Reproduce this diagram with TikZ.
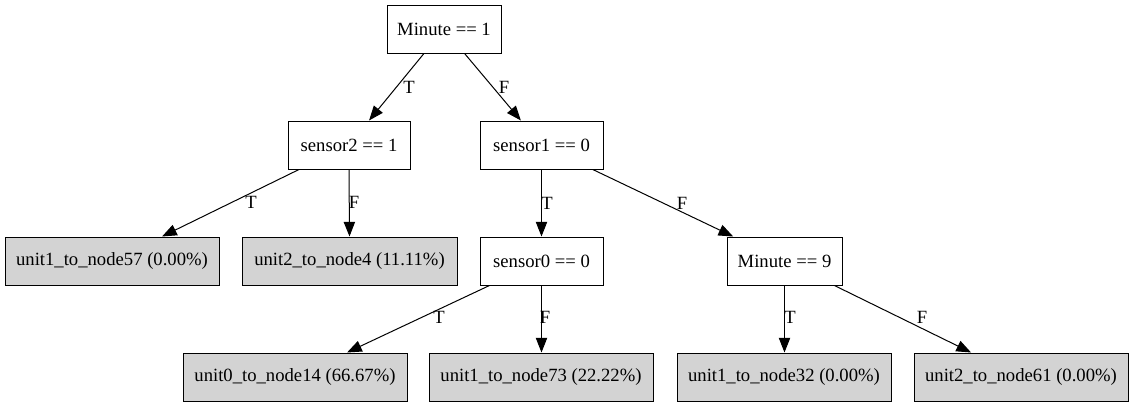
\documentclass[tikz,border=0pt]{standalone}
\usepackage{fontspec}
\setmainfont{Liberation Serif}
\usetikzlibrary{arrows.meta}
\begin{document}
\begin{tikzpicture}[x=0.75pt,y=-0.75pt,
  dec/.style={draw=black,line width=0.75pt,fill=white,minimum height=36pt,inner sep=0pt,font=\fontsize{14pt}{16pt}\selectfont},
  leaf/.style={dec,fill={rgb,255:red,211;green,211;blue,211}},
  arr/.style={line width=0.75pt,-{Triangle[length=11pt,width=8.5pt]}},
  lbl/.style={inner sep=0pt,font=\fontsize{14pt}{16pt}\selectfont}]
\useasboundingbox (0,0) rectangle (1133,407);
\node[dec,minimum width=85.5pt] (m1) at (444,29) {Minute == 1};
\node[dec,minimum width=91.5pt] (s2) at (349,145) {sensor2 == 1};
\node[dec,minimum width=92.25pt] (s1) at (541.5,145) {sensor1 == 0};
\node[leaf,minimum width=160.5pt] (u57) at (112,261) {unit1\_to\_node57 (0.00\%)};
\node[leaf,minimum width=161.25pt] (u4) at (349.5,261) {unit2\_to\_node4 (11.11\%)};
\node[dec,minimum width=92.25pt] (s0) at (541.5,261) {sensor0 == 0};
\node[dec,minimum width=86.25pt] (m9) at (784.5,261) {Minute == 9};
\node[leaf,minimum width=168pt] (u14) at (295,377) {unit0\_to\_node14 (66.67\%)};
\node[leaf,minimum width=168pt] (u73) at (541,377) {unit1\_to\_node73 (22.22\%)};
\node[leaf,minimum width=160.5pt] (u32) at (784,377) {unit1\_to\_node32 (0.00\%)};
\node[leaf,minimum width=160.5pt] (u61) at (1021,377) {unit2\_to\_node61 (0.00\%)};
\draw[arr] (m1) -- (s2);
\draw[arr] (m1) -- (s1);
\draw[arr] (s2) -- (u57);
\draw[arr] (s2.south) -- (u4.north);
\draw[arr] (s1.south) -- (s0.north);
\draw[arr] (s1) -- (m9);
\draw[arr] (s0) -- (u14);
\draw[arr] (s0.south) -- (u73.north -| s0.south);
\draw[arr] (m9.south) -- (u32.north -| m9.south);
\draw[arr] (m9) -- (u61);
\node[lbl] (l1) at (409,87) {T};
\node[lbl] (l2) at (504,87) {F};
\node[lbl] (l3) at (251,202) {T};
\node[lbl] (l4) at (354,202) {F};
\node[lbl] (l5) at (547,203) {T};
\node[lbl] (l6) at (682,203) {F};
\node[lbl] (l7) at (439,317) {T};
\node[lbl] (l8) at (545,317) {F};
\node[lbl] (l9) at (790,317) {T};
\node[lbl] (l10) at (922,317) {F};
\end{tikzpicture}
\end{document}
